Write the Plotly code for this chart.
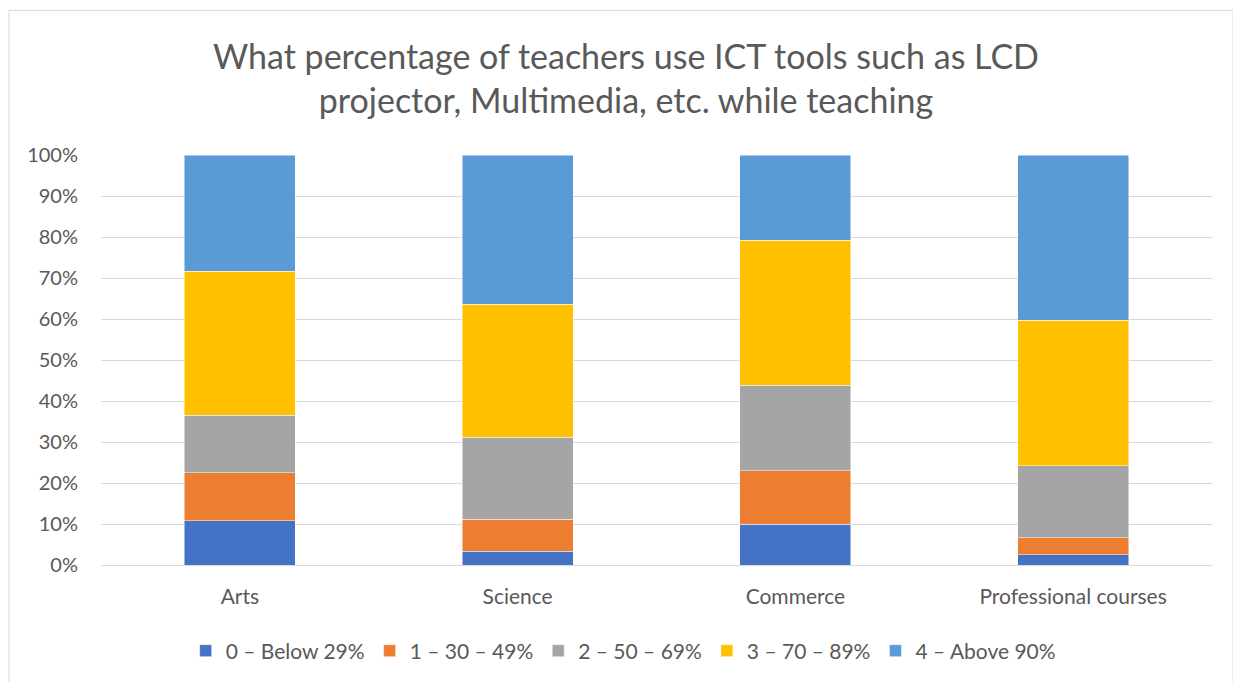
import plotly.graph_objects as go

categories = ["Arts", "Science", "Commerce", "Professional courses"]
series_names = ["0 – Below 29%", "1 – 30 – 49%", "2 – 50 – 69%", "3 – 70 – 89%", "4 – Above 90%"]
s0 = [10.8, 3.4, 10.0, 2.5]
s1 = [11.7, 7.8, 13.0, 4.1]
s2 = [14.0, 19.9, 20.9, 17.6]
s3 = [35.2, 32.5, 35.3, 35.5]
s4 = [28.3, 36.4, 20.8, 40.3]
colors = ["#4472C4", "#ED7D31", "#A5A5A5", "#FFC000", "#5B9BD5"]
y_ticks = [0, 10, 20, 30, 40, 50, 60, 70, 80, 90, 100]
y_tick_labels = [f"{v}%" for v in y_ticks]

FONT = "Lato"
GREY = "#595959"

# the page body has an 8px margin, so the figure is sized to fit the window
W, H = 1233, 674
L, R, T, B = 93, 29, 147, 116
PW, PH = W - L - R, H - T - B

fig = go.Figure()
for name, vals, col in zip(series_names, [s0, s1, s2, s3, s4], colors):
    fig.add_trace(go.Bar(
        x=categories, y=vals, name=name,
        marker=dict(color=col, line=dict(color="rgba(255,255,255,0.6)", width=0.8)),
    ))

fig.update_layout(
    barmode="stack",
    bargap=0.6,
    width=W, height=H,
    paper_bgcolor="white", plot_bgcolor="white",
    margin=dict(l=L, r=R, t=T, b=B),
    font=dict(family=FONT, color=GREY, size=20),
    title=dict(
        text="What percentage of teachers use ICT tools such as LCD<br>projector, Multimedia, etc. while teaching",
        x=(626 - 8) / W, xref="container", xanchor="center",
        y=1 - 61 / H, yref="container", yanchor="middle",
        font=dict(family=FONT, size=34, color=GREY),
    ),
    legend=dict(
        orientation="h", x=0.47, xanchor="center", y=(566 - 651) / 411, yanchor="middle",
        font=dict(family=FONT, size=21, color=GREY),
        itemwidth=30, traceorder="normal",
    ),
    showlegend=True,
)
fig.update_xaxes(
    showgrid=False, showline=True, linecolor="#d9d9d9", linewidth=1,
    tickfont=dict(family=FONT, size=21, color=GREY),
    ticks="", ticklabelstandoff=13,
)
fig.update_yaxes(
    range=[0, 100], tickvals=y_ticks, ticktext=y_tick_labels,
    showgrid=True, gridcolor="#d9d9d9", gridwidth=1,
    zeroline=False, showline=False,
    tickfont=dict(family=FONT, size=20, color=GREY),
    ticks="", ticklabelstandoff=22,
)
# outer chart border (page coords -> paper coords)
def px_x(x):
    return (x - 8 - L) / PW

def px_y(y):
    return 1 - (y - 8 - T) / PH

fig.add_shape(type="rect", xref="paper", yref="paper",
              x0=px_x(9), x1=px_x(1233),
              y0=px_y(700), y1=px_y(10),
              line=dict(color="#d9d9d9", width=1), layer="below")

fig.write_html("out.html")
